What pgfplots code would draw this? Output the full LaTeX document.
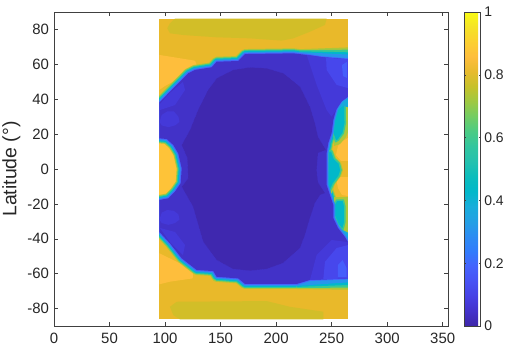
\documentclass[border=0pt]{standalone}
\usepackage{pgfplots}
\usepackage{pgfplotstable}
\usepackage{fontspec}
\setmainfont{Liberation Sans}
\pgfplotsset{compat=1.18}
\definecolor{pCore}{rgb}{.246,.158,.685}
\definecolor{pBase}{rgb}{.258,.196,.785}
\definecolor{pA}{rgb}{.268,.222,.850}
\definecolor{pB}{rgb}{.278,.280,.925}
\definecolor{pC}{rgb}{.276,.3667,.9829}
\definecolor{b1}{rgb}{.2650,.400,.992}
\definecolor{b2}{rgb}{.154,.590,.922}
\definecolor{bm}{rgb}{.095,.665,.860}
\definecolor{b3}{rgb}{.0036,.720,.792}
\definecolor{b4}{rgb}{.230,.790,.570}
\definecolor{b5}{rgb}{.672,.779,.223}
\definecolor{oBase}{rgb}{.915,.725,.165}
\definecolor{oOlive}{rgb}{.825,.745,.155}
\definecolor{oLight}{rgb}{.9956,.7434,.2371}
\definecolor{oLobe}{rgb}{.997,.766,.220}
\definecolor{axc}{rgb}{.25,.25,.25}
\definecolor{txc}{rgb}{.15,.15,.15}
\pgfplotstableread{
lon lat
94.8 38.0
104.4 44.3
115.0 51.0
120.9 54.9
127.0 56.8
142.0 58.3
146.5 61.5
165.9 61.9
172.0 65.9
215.5 66.3
227.5 65.4
242.5 64.0
264.7 62.9
264.7 41.5
259.0 39.6
254.5 35.0
251.5 28.1
250.0 20.6
247.0 14.9
245.5 9.2
245.5 -0.6
245.5 -9.2
248.5 -14.9
251.5 -20.6
251.5 -28.1
255.7 -33.8
262.0 -39.0
264.7 -41.9
264.7 -62.7
230.5 -63.6
218.5 -65.9
172.0 -65.9
165.9 -62.7
146.5 -61.8
143.4 -58.5
128.5 -57.9
115.0 -51.2
104.4 -42.6
94.8 -36.0
94.8 -17.8
102.9 -16.8
108.9 -13.0
114.1 -8.2
115.0 0.4
111.9 9.0
107.4 13.8
101.5 17.2
94.8 17.6
}\blueRegion
\pgfplotstableread{
lon lat
176.5 58.3
191.5 57.7
206.5 54.9
221.5 47.2
230.5 35.7
235.0 26.2
237.7 18.5
244.9 10.9
237.7 9.2
236.5 -0.6
237.7 -7.5
244.0 -13.8
239.5 -14.9
235.0 -19.5
230.5 -28.1
226.0 -37.8
221.5 -45.3
206.2 -53.9
191.5 -57.3
176.5 -58.3
161.2 -57.3
146.5 -52.2
134.4 -41.7
125.2 -21.6
115.0 -10.1
120.9 -5.2
120.0 6.3
115.0 13.8
122.5 22.4
129.7 33.8
138.7 45.3
146.5 52.0
161.4 56.8
}\coreRegion
\begin{document}
\begin{tikzpicture}[x=1bp,y=1bp]
\path[use as bounding box] (0,0) rectangle (505,347);
\begin{axis}[
  at={(54bp,21bp)},anchor=south west,
  scale only axis,width=394bp,height=314bp,
  xmin=0,xmax=354.8,ymin=-90,ymax=90,
  xtick={0,50,...,350},ytick={-80,-60,...,80},
  scaled ticks=false,
  tick align=inside,major tick length=3.9bp,
  axis on top,
  axis line style={axc,line width=0.6bp},
  every tick/.style={axc,line width=0.5bp},
  tick label style={font=\fontsize{15}{15}\selectfont,text=txc},
  xticklabel style={yshift=-3.5bp},
  yticklabel style={xshift=-1.5bp},
  /pgf/number format/assume math mode=true,
  ylabel={Latitude (°)},
  ylabel style={font=\fontsize{19.5}{19.5}\selectfont,text=txc,
    at={(axis description cs:-0.108,0.5)},anchor=center},
  every axis plot/.append style={line join=round},
  colormap={parula}{
    rgb=(.2422,.1504,.6603) rgb=(.2647,.1978,.7952) rgb=(.2783,.2559,.8991) rgb=(.2810,.3228,.9579)
    rgb=(.2699,.3892,.9906) rgb=(.1963,.4847,.9892) rgb=(.1764,.5499,.9520) rgb=(.1380,.6276,.8973)
    rgb=(.0952,.6798,.8598) rgb=(.0036,.7203,.7917) rgb=(.0433,.7411,.7394) rgb=(.1408,.7584,.6842)
    rgb=(.1938,.7758,.6251) rgb=(.2906,.7973,.5188) rgb=(.4456,.8024,.3909) rgb=(.6174,.7876,.2612)
    rgb=(.7738,.7598,.1646) rgb=(.9035,.7330,.1774) rgb=(.9956,.7434,.2371) rgb=(.9892,.8136,.1885)
    rgb=(.9610,.8890,.1537) rgb=(.9769,.9839,.0805)},
  point meta min=0,point meta max=1,
  colorbar,
  colorbar style={
    at={(1.0406,1)},anchor=north west,
    scale only axis,width=16.3bp,height=314bp,
    ytick={0,0.2,0.4,0.6,0.8,1},
    yticklabels={0,0.2,0.4,0.6,0.8,1},
    scaled ticks=false,
    tick align=inside,major tick length=1.8bp,
    yticklabel pos=right,
    axis line style={axc,line width=0.6bp},
    tick label style={font=\fontsize{14}{14}\selectfont,text=txc},
    yticklabel style={xshift=0.5bp},
  },
]
% base field
\addplot[fill=oBase,draw=none] coordinates {(94.8,86.2)(264.7,86.2)(264.7,-86.2)(94.8,-86.2)} -- cycle;
\addplot[fill=oLight,draw=none] coordinates {(94.8,65.4)(127.0,62.1)(128.5,59.6)(116.4,55.8)(107.4,50.1)(99.9,47.6)(94.8,45.3)} -- cycle;
\addplot[fill=oLight,draw=none] coordinates {(94.8,-48.3)(116.4,-55.0)(125.4,-57.9)(124.9,-62.7)(104.4,-64.6)(94.8,-66.1)} -- cycle;
\addplot[fill=oOlive,draw=none] coordinates {(104.4,83.5)(108.9,86.2)(245.5,86.2)(244.0,82.6)(230.5,78.7)(215.5,74.9)(205.0,73.6)(176.5,74.9)(146.5,75.5)(116.4,76.8)(104.4,77.8)(102.0,80.7)} -- cycle;
\addplot[fill=oOlive,draw=none] coordinates {(104.4,-79.0)(110.5,-76.1)(191.5,-75.7)(212.5,-79.0)(242.5,-81.8)(242.5,-86.2)(113.5,-86.2)(107.4,-83.7)} -- cycle;
\addplot[fill=oLobe,draw=none] coordinates {(94.8,20)(120,20)(120,-20)(94.8,-20)} -- cycle;
\addplot[fill=oLight,draw=none] coordinates {(255.7,13.2)(260.2,16.1)(264.7,17.8)(264.7,4.6)(258.4,4.6)(253.9,8.0)} -- cycle;
\addplot[fill=oLight,draw=none] coordinates {(253.9,-4.6)(264.7,-4.6)(264.7,-15.5)(259.3,-14.9)(255.7,-10.9)} -- cycle;
% band around the blue region
\addplot[draw=b5,line width=10bp] table[x=lon,y=lat] {\blueRegion} -- cycle;
\addplot[draw=b4,line width=8bp] table[x=lon,y=lat] {\blueRegion} -- cycle;
\addplot[draw=b3,line width=6bp] table[x=lon,y=lat] {\blueRegion} -- cycle;
% wide band, upper and lower right
\addplot[fill=b5,draw=none] coordinates {(221.5,68.7)(264.7,69.7)(264.7,60)(221.5,60)} -- cycle;
\addplot[fill=b4,draw=none] coordinates {(221.5,68.1)(264.7,68.4)(264.7,60)(221.5,60)} -- cycle;
\addplot[fill=b3,draw=none] coordinates {(221.5,67.5)(264.7,66.9)(264.7,60)(221.5,60)} -- cycle;
\addplot[fill=b2,draw=none] coordinates {(221.5,67.0)(264.7,65.6)(264.7,60)(221.5,60)} -- cycle;
\addplot[fill=b5,draw=none] coordinates {(218.5,-68.8)(264.7,-69.2)(264.7,-60)(218.5,-60)} -- cycle;
\addplot[fill=b4,draw=none] coordinates {(218.5,-68.2)(264.7,-68)(264.7,-60)(218.5,-60)} -- cycle;
\addplot[fill=b3,draw=none] coordinates {(218.5,-67.6)(264.7,-66.5)(264.7,-60)(218.5,-60)} -- cycle;
\addplot[fill=b2,draw=none] coordinates {(218.5,-67)(264.7,-65)(264.7,-60)(218.5,-60)} -- cycle;
% right side teal lobes
\addplot[fill=b5,draw=none] coordinates {(258,39.0)(264.7,39.0)(264.7,21.2)(262.9,18.3)(257.5,14.3)(252.1,13.2)(253.0,28.1)} -- cycle;
\addplot[fill=b3,draw=b4,line width=1.5bp] coordinates {(255,37)(262,37)(262.3,26.2)(260.5,20.5)(256,16.6)(253.7,15.7)(251.3,19.9)(252,28.1)} -- cycle;
\addplot[fill=bm,draw=none] coordinates {(256,39)(264.7,41)(264.7,35.5)(260,36)(254,33)} -- cycle;
\addplot[fill=b5,draw=none] coordinates {(247.6,10.9)(251.2,10.9)(253.9,6.3)(258.4,3.4)(260.2,-0.6)(258.4,-4.0)(253.0,-8.6)(249.4,-14.9)(246.7,-14.9)} -- cycle;
\addplot[fill=b3,draw=b4,line width=1.5bp] coordinates {(247,10.4)(250,10.4)(252.5,6)(256.8,3.4)(258.5,-0.6)(256.8,-4)(251.5,-8.6)(248.5,-13)(246,-13)} -- cycle;
\addplot[fill=b5,draw=none] coordinates {(252.1,-16.1)(264.7,-16.1)(264.7,-38.4)(259.3,-37.3)(253.0,-30.4)(252.1,-21.8)} -- cycle;
\addplot[fill=b3,draw=b4,line width=1.5bp] coordinates {(254.5,-17.8)(260.5,-17.8)(262,-21.6)(262,-30.2)(260,-35)(256,-32.1)(252.1,-26.4)(252.1,-20.6)} -- cycle;
\addplot[fill=bm,draw=none] coordinates {(254,-31)(260,-35)(264.7,-36.5)(264.7,-42)(259,-38)} -- cycle;
% soft inner rim, along the whole region
\addplot[draw=b2,line width=4bp] table[x=lon,y=lat] {\blueRegion} -- cycle;
\addplot[draw=b1,line width=2bp] table[x=lon,y=lat] {\blueRegion} -- cycle;
% blue interior
\addplot[fill=pBase,draw=none] table[x=lon,y=lat] {\blueRegion} -- cycle;
\addplot[fill=pA,draw=none] coordinates {(227.5,65.4)(242.5,64)(264.7,62.9)(264.7,41.5)(259,38.6)(250,30)(245.5,33.8)(236.5,48.2)} -- cycle;
\addplot[fill=pB,draw=none] coordinates {(245,63.8)(264.7,62.9)(264.7,46.4)(254.5,48.2)(245.5,56.8)} -- cycle;
\addplot[fill=pC,draw=none] coordinates {(259.3,59.6)(263.8,61.4)(263.8,52.2)(260.2,53.3)} -- cycle;
\addplot[fill=pA,draw=none] coordinates {(230.5,-63.6)(236.5,-49.3)(250,-40.7)(264.7,-41.9)(264.7,-62.7)} -- cycle;
\addplot[fill=pB,draw=none] coordinates {(242.5,-63.2)(244,-53.2)(254.5,-45.3)(264.7,-43.6)(264.7,-62.7)} -- cycle;
\addplot[fill=pC,draw=none] coordinates {(255.7,-61.9)(255.7,-55)(259.9,-52.2)(263.5,-56.8)(263.5,-61.9)} -- cycle;
\addplot[fill=pA,draw=none] coordinates {(95,27)(97,31)(102,33)(108,33)(112,30)(113,27)(109,25)(103,24)(97,25)} -- cycle;
\addplot[fill=pA,draw=none] coordinates {(95,-29)(97,-25)(102,-23.5)(108,-24)(112,-26)(113,-29)(109,-31)(103,-32)(97,-31)} -- cycle;
\addplot[fill=pA,draw=none] coordinates {(95.4,37.3)(104.4,43.6)(116.1,49.9)(118,45.3)(109,36.7)(95.4,33.8)} -- cycle;
\addplot[fill=pA,draw=none] coordinates {(95.4,-33.8)(109,-36.1)(118,-43.6)(116.1,-49.3)(104.4,-41.9)} -- cycle;
\addplot[fill=pCore,draw=pA,densely dotted,line width=0.3bp] table[x=lon,y=lat] {\coreRegion} -- cycle;
% outside of the field stays white
\addplot[fill=white,draw=none] coordinates {(88,50)(94.8,50)(94.8,-50)(88,-50)} -- cycle;
\addplot[fill=white,draw=none] coordinates {(264.7,72)(272,72)(272,-72)(264.7,-72)} -- cycle;
\end{axis}
\end{tikzpicture}
\end{document}
